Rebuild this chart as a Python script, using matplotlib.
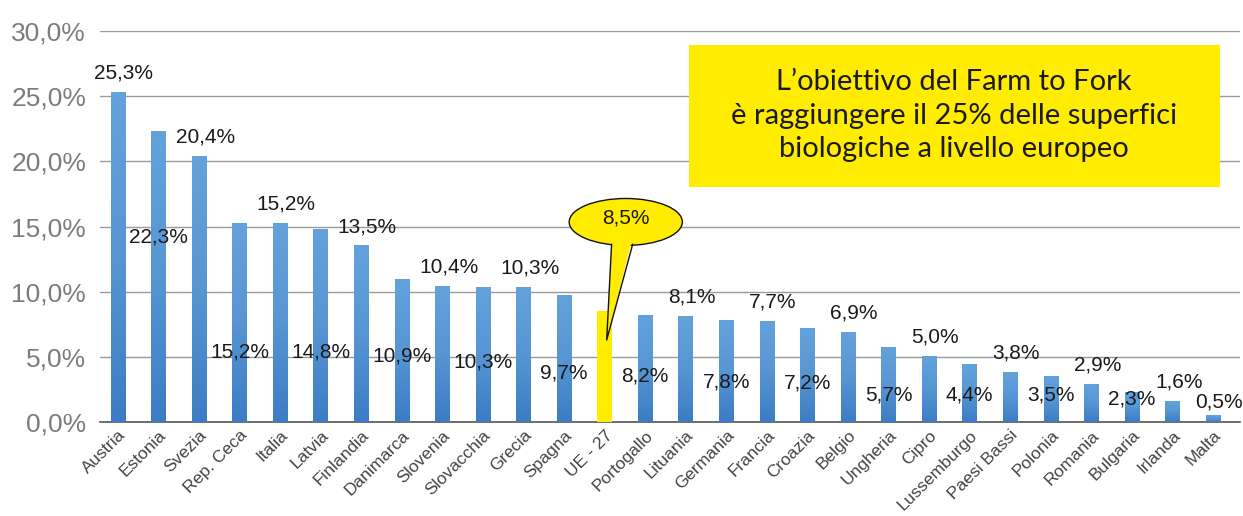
import numpy as np
import matplotlib
matplotlib.use("Agg")
from matplotlib import pyplot as plt
from matplotlib.colors import LinearSegmentedColormap
from matplotlib.patches import Ellipse, Polygon, Rectangle

# data
countries = ["Austria", "Estonia", "Svezia", "Rep. Ceca", "Italia", "Latvia", "Finlandia",
             "Danimarca", "Slovenia", "Slovacchia", "Grecia", "Spagna", "UE - 27", "Portogallo",
             "Lituania", "Germania", "Francia", "Croazia", "Belgio", "Ungheria", "Cipro",
             "Lussemburgo", "Paesi Bassi", "Polonia", "Romania", "Bulgaria", "Irlanda", "Malta"]
values = [25.3, 22.3, 20.4, 15.2, 15.2, 14.8, 13.5, 10.9, 10.4, 10.3, 10.3, 9.7, 8.5, 8.2,
          8.1, 7.8, 7.7, 7.2, 6.9, 5.7, 5.0, 4.4, 3.8, 3.5, 2.9, 2.3, 1.6, 0.5]
yticks = [0, 5, 10, 15, 20, 25, 30]
eu_label = "UE - 27"
note = "L\u2019obiettivo del Farm to Fork\n\u00e8 raggiungere il 25% delle superfici\nbiologiche a livello europeo"

# layout: labels drawn inside the bar (height of the label centre), others go above
inside_y = {1: 14.2, 3: 5.4, 5: 5.4, 7: 5.1, 9: 4.6, 11: 3.8, 13: 3.5, 15: 3.1,
            17: 3.0, 19: 2.1, 21: 2.1, 23: 2.1, 25: 1.8}

BLUE_CMAP = LinearSegmentedColormap.from_list("bar", ["#3b7cc4", "#5796d3", "#64a2dc"])
YELLOW = "#ffec00"
SANS = ["Liberation Sans", "DejaVu Sans"]


def fmt(v):
    return ("%.1f%%" % v).replace(".", ",")


fig = plt.figure(figsize=(12.43, 5.16), dpi=100)
ax = fig.add_axes([0.0805, 0.182, 0.917, 0.758])

x = np.arange(len(countries))
w = 0.36
grad = np.linspace(0, 1, 256).reshape(-1, 1)
eu_idx = countries.index(eu_label)

for i, v in enumerate(values):
    if i == eu_idx:
        ax.bar(x[i], v, width=w, color=YELLOW, zorder=3)
    else:
        ax.imshow(grad, cmap=BLUE_CMAP, aspect="auto", origin="lower",
                  extent=(x[i] - w / 2, x[i] + w / 2, 0, v), zorder=3)

ax.set_xlim(-0.44, 27.66)
ax.set_ylim(0, 30)

ax.set_yticks(yticks)
ax.set_yticklabels([fmt(t) for t in yticks], fontsize=19, color="#7c7c7c", family=SANS)
ax.yaxis.grid(True, color="#9a9a9a", linewidth=1.0, zorder=0)
ax.set_axisbelow(True)
ax.tick_params(axis="y", length=0, pad=10)
ax.tick_params(axis="x", length=0, pad=4)

ax.set_xticks(x)
ax.set_xticklabels(countries, rotation=45, ha="right", rotation_mode="anchor",
                   fontsize=12.5, color="#444444", family=SANS)

for s in ["top", "right", "left"]:
    ax.spines[s].set_visible(False)
ax.spines["bottom"].set_color("#555555")
ax.spines["bottom"].set_linewidth(1.2)

# value labels
for i, v in enumerate(values):
    if i == eu_idx:
        continue
    if i in inside_y:
        ax.text(x[i], inside_y[i], fmt(v), ha="center", va="center", fontsize=15,
                color="#1a1a1a", zorder=6, family=SANS)
    else:
        dy = 1.5 if v > 1 else 1.05
        ax.text(x[i] + 0.15, v + dy, fmt(v), ha="center", va="center", fontsize=15,
                color="#1a1a1a", zorder=6, family=SANS)

# callout for UE - 27
ex, ey = eu_idx + 0.52, 15.35
ell = Ellipse((ex, ey), 2.79, 3.6, facecolor=YELLOW, edgecolor="#111111", linewidth=1.0, zorder=7)
ax.add_patch(ell)
tip = (eu_idx + 0.05, values[eu_idx] - 2.2)
b1 = (eu_idx + 0.17, ey - 1.2)
b2 = (eu_idx + 0.69, ey - 1.2)
ax.add_patch(Polygon([b1, tip, b2], closed=True, facecolor=YELLOW, edgecolor="none", zorder=8))
ax.plot([b1[0], tip[0], b2[0]], [ey - 1.72, tip[1], ey - 1.72], color="#111111",
        linewidth=1.0, zorder=9)
ax.text(ex, ey + 0.3, fmt(values[eu_idx]), ha="center", va="center", fontsize=15,
        color="#1a1a1a", zorder=10, family=SANS)

# note box
ax.add_patch(Rectangle((14.07, 18.0), 13.09, 10.9, facecolor=YELLOW, edgecolor="none", zorder=5))
ax.text(14.07 + 13.09 / 2, 23.5, note, ha="center", va="center", fontsize=21,
        color="#1a1a1a", linespacing=1.35, zorder=6, family=["Lato", "DejaVu Sans"])

fig.savefig("out.png", dpi=100)
